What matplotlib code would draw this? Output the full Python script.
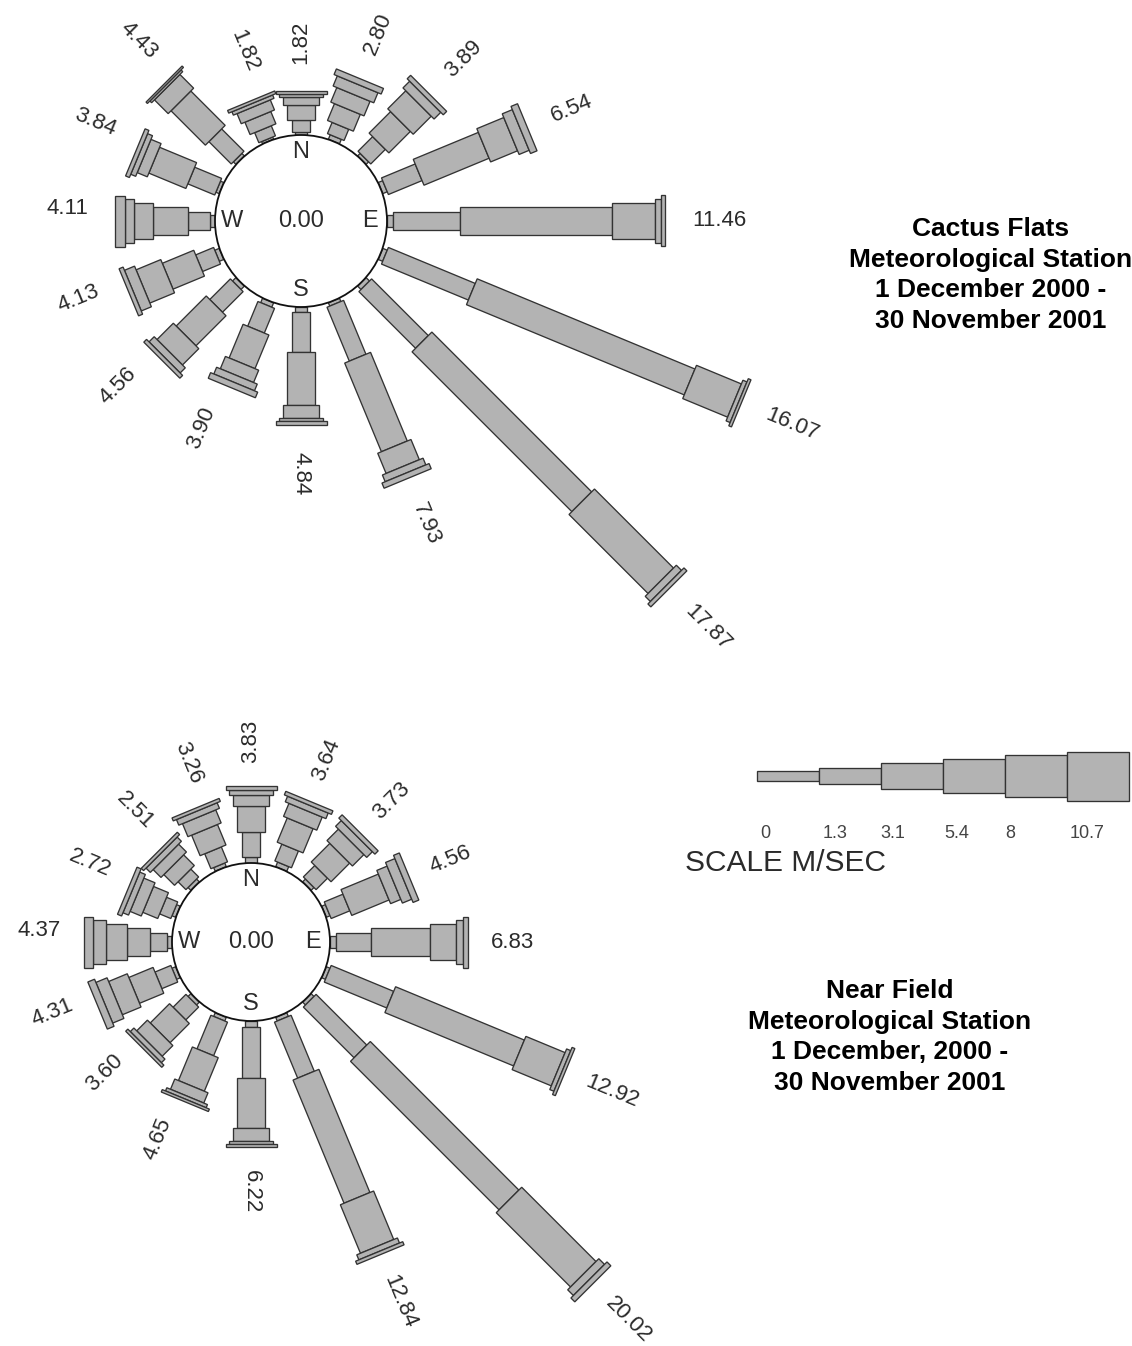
import numpy as np
import matplotlib
matplotlib.use("Agg")
import matplotlib.pyplot as plt
from matplotlib.patches import Polygon, Circle, Rectangle

plt.rcParams['font.family'] = ['Liberation Sans', 'DejaVu Sans']

# compass sectors, clockwise from north
directions = ["N", "NNE", "NE", "ENE", "E", "ESE", "SE", "SSE",
              "S", "SSW", "SW", "WSW", "W", "WNW", "NW", "NNW"]
speed_edges = ["0", "1.3", "3.1", "5.4", "8", "10.7"]
calm_label = "0.00"

# Cactus Flats: percent of hours in each speed class (m/s)
cactus_0_13 = [0.12, 0.20, 0.15, 0.20, 0.25, 0.20, 0.20, 0.15,
               0.20, 0.20, 0.20, 0.20, 0.20, 0.15, 0.15, 0.10]
cactus_13_31 = [0.50, 0.50, 0.85, 1.50, 2.76, 3.87, 3.30, 2.40,
                1.65, 1.10, 1.20, 0.80, 0.90, 1.20, 1.30, 0.45]
cactus_31_54 = [0.62, 0.75, 1.25, 2.90, 6.26, 9.70, 9.30, 3.95,
                2.20, 1.50, 1.75, 1.40, 1.45, 1.65, 2.00, 0.55]
cactus_54_80 = [0.33, 0.65, 1.05, 1.20, 1.77, 2.00, 4.60, 0.90,
                0.50, 0.55, 0.95, 1.10, 0.80, 0.45, 0.80, 0.45]
cactus_80_107 = [0.13, 0.45, 0.39, 0.45, 0.25, 0.18, 0.30, 0.30,
                 0.15, 0.30, 0.30, 0.45, 0.35, 0.22, 0.10, 0.15]
cactus_107_up = [0.12, 0.25, 0.20, 0.29, 0.17, 0.12, 0.17, 0.23,
                 0.14, 0.25, 0.16, 0.18, 0.41, 0.17, 0.08, 0.12]

# Near Field: percent of hours in each speed class (m/s)
near_0_13 = [0.30, 0.25, 0.20, 0.20, 0.30, 0.20, 0.20, 0.20,
             0.30, 0.20, 0.20, 0.20, 0.25, 0.20, 0.20, 0.20]
near_13_31 = [1.25, 0.90, 0.80, 1.00, 1.75, 3.35, 3.55, 3.00,
              2.50, 1.80, 0.90, 0.85, 0.85, 0.60, 0.55, 0.80]
near_31_54 = [1.25, 1.30, 1.30, 2.00, 2.90, 6.90, 10.40, 6.60,
              2.50, 1.80, 1.35, 1.30, 1.15, 0.80, 0.75, 1.10]
near_54_80 = [0.55, 0.70, 0.80, 0.55, 1.30, 2.10, 5.20, 2.60,
              0.65, 0.55, 0.75, 1.00, 1.00, 0.60, 0.55, 0.70]
near_80_107 = [0.25, 0.30, 0.40, 0.50, 0.35, 0.22, 0.40, 0.27,
               0.15, 0.17, 0.25, 0.60, 0.65, 0.30, 0.30, 0.30]
near_107_up = [0.23, 0.19, 0.23, 0.31, 0.23, 0.15, 0.27, 0.17,
               0.12, 0.13, 0.15, 0.36, 0.47, 0.22, 0.16, 0.16]

cactus_title = ["Cactus Flats", "Meteorological Station",
                "1 December 2000 -", "30 November 2001"]
near_title = ["Near Field", "Meteorological Station",
              "1 December, 2000 -", "30 November 2001"]

# look
BAR_WIDTHS = [12, 18, 28, 36, 44, 51]   # px, one per speed class
FILL = "#b3b3b3"
EDGE = "#333333"
TEXT = "#2b2b2b"


def draw_rose(ax, center, r0, scale, classes, gap=27, lift=13):
    """
    draw one wind rose in pixel space

    center : (x, y) of the calm circle
    r0     : radius of the calm circle
    scale  : pixels per percent
    classes: list of 6 lists (one per speed class, 16 sectors each)
    lift   : sideways shift of the labels that are turned upright
    """
    cx, cy = center
    freq = np.array(classes)            # shape (6, 16)
    totals = freq.sum(axis=0)
    # drawn anticlockwise so the north arm ends up on top
    for i in range(len(directions) - 1, -1, -1):
        theta = np.radians(22.5 * i)
        u = np.array([np.sin(theta), -np.cos(theta)])
        p = np.array([np.cos(theta), np.sin(theta)])
        r = r0
        for k in range(freq.shape[0]):
            r_next = r + freq[k, i] * scale
            h = BAR_WIDTHS[k] / 2.0
            pts = [(cx, cy) + u * r - p * h, (cx, cy) + u * r_next - p * h,
                   (cx, cy) + u * r_next + p * h, (cx, cy) + u * r + p * h]
            ax.add_patch(Polygon(pts, closed=True, facecolor=FILL,
                                 edgecolor=EDGE, linewidth=0.95, zorder=2))
            r = r_next

        # total label, radial and kept upright
        ang = 90 - 22.5 * i
        flipped = ang < -90
        rot = ang + 180 if flipped else ang
        lx, ly = (cx, cy) + u * (r + gap)
        if flipped:
            a = np.radians(rot)
            lx -= lift * np.sin(a)
            ly -= lift * np.cos(a)
        ax.text(lx, ly, "%.2f" % totals[i], rotation=rot,
                rotation_mode='anchor', ha='right' if flipped else 'left',
                va='center', fontsize=16, color=TEXT, zorder=4)

    ax.add_patch(Circle((cx, cy), r0, facecolor='white', edgecolor='#111111',
                        linewidth=1.3, zorder=3))
    ax.text(cx, cy, calm_label, ha='center', va='center', fontsize=17,
            color=TEXT, zorder=4)
    off = r0 - 17
    for name, dx, dy in [("N", 0, -off), ("S", 0, off),
                         ("E", off, 0), ("W", -off, 0)]:
        ax.text(cx + dx, cy + dy, name, ha='center', va='center',
                fontsize=17, color=TEXT, zorder=4)


def draw_scale(ax, x0, y0, seg_len=62):
    """speed class key: one block per class, widening with speed"""
    for k in range(len(BAR_WIDTHS)):
        h = BAR_WIDTHS[k] - 2
        ax.add_patch(Rectangle((x0 + k * seg_len, y0 - h / 2.0), seg_len, h,
                               facecolor=FILL, edgecolor=EDGE, linewidth=0.95))
    label_x = [765, 835, 893, 957, 1010, 1087]
    for lab, lx in zip(speed_edges, label_x):
        ax.text(lx, y0 + 57, lab, ha='center', va='center', fontsize=13,
                color='#444444')
    ax.text(x0 - 72, y0 + 87, "SCALE M/SEC", ha='left', va='center',
            fontsize=21.5, color=TEXT)


def draw_title(ax, x, y, lines, step=30.7):
    for j, line in enumerate(lines):
        ax.text(x, y + j * step, line, ha='center', va='center',
                fontsize=19, fontweight='bold', color='black')


fig = plt.figure(figsize=(11.32, 13.46), dpi=100)
ax = fig.add_axes([0, 0, 1, 1])
ax.set_xlim(0, 1132)
ax.set_ylim(1346, 0)
ax.axis('off')

draw_rose(ax, (301, 221), 86, 24.3,
          [cactus_0_13, cactus_13_31, cactus_31_54,
           cactus_54_80, cactus_80_107, cactus_107_up])
draw_rose(ax, (251, 942), 79, 20.2,
          [near_0_13, near_13_31, near_31_54,
           near_54_80, near_80_107, near_107_up], gap=23, lift=11)

draw_scale(ax, 757, 776)
draw_title(ax, 991, 229, cactus_title)
draw_title(ax, 890, 991, near_title)

fig.savefig("out.png", dpi=100, facecolor='white')
